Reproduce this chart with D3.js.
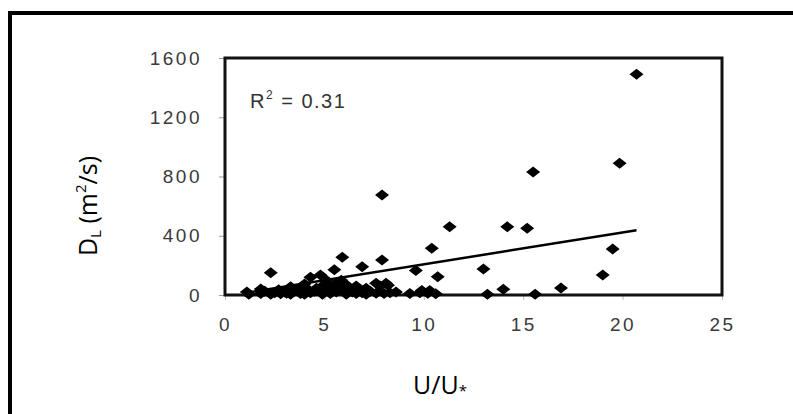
<!DOCTYPE html>
<html>
<head>
<meta charset="utf-8">
<script src="https://cdn.jsdelivr.net/npm/d3@7"></script>
<style>
  body { margin: 0; background: #fff; }
  svg { display: block; }
</style>
</head>
<body>
<div id="chart"></div>
<script>
// U/U* values
const uValues = [
  20.7, 19.85, 15.5, 7.9, 11.3, 14.2, 15.2, 10.4, 19.5, 5.9, 7.9, 6.9, 13.0, 5.5, 9.6, 2.3,
  19.0, 4.8, 10.7, 4.3, 5.1, 5.85,
  16.9, 14.0, 7.8, 8.2, 9.9, 10.3, 6.1, 6.6, 7.1, 3.3, 3.8, 5.6, 4.9, 6.3, 2.7, 1.8, 4.0,
  5.3, 7.6, 8.1, 6.8, 4.6, 3.0,
  1.1, 1.2, 1.8, 2.3, 2.8, 3.3, 3.8, 4.0, 4.3, 4.9, 5.3, 5.6, 6.1, 6.6, 7.1, 7.6, 8.0, 8.3,
  9.3, 9.8, 10.2, 13.2, 15.6, 2.0, 2.5, 3.5, 4.5, 5.0, 5.8, 6.4, 7.3, 8.6, 3.1, 4.2, 5.4, 6.9, 10.6
];
// D_L values (m2/s), same order
const dlValues = [
  1490, 890, 830, 675, 460, 460, 450, 315, 310, 255, 236, 190, 175, 170, 165, 150,
  135, 135, 124, 120, 100, 100,
  48, 38, 60, 65, 30, 30, 70, 60, 45, 55, 50, 80, 60, 40, 35, 40, 75,
  55, 80, 80, 30, 45, 20,
  20, 5, 10, 5, 8, 5, 10, 5, 15, 5, 10, 20, 5, 10, 5, 12, 10, 15,
  10, 15, 12, 5, 5, 25, 15, 30, 25, 30, 35, 20, 25, 20, 12, 35, 40, 15, 8
];

const xTicks = [0, 5, 10, 15, 20, 25];
const yTicks = [0, 400, 800, 1200, 1600];
const rSquared = "0.31";
// linear trend line (slope, intercept) over the data range
const trendSlope = 21.5;
const trendIntercept = -8;

const W = 793, H = 414;
const plot = { left: 225, right: 722, top: 58, bottom: 295 };

const svg = d3.select("#chart").append("svg")
  .attr("width", W)
  .attr("height", H);

// outer frame (top + left edges only)
svg.append("path")
  .attr("d", `M10,${H} L10,13 L${W},13`)
  .attr("fill", "none")
  .attr("stroke", "#000")
  .attr("stroke-width", 4);

const x = d3.scaleLinear().domain([0, 25]).range([plot.left, plot.right]);
const y = d3.scaleLinear().domain([0, 1600]).range([plot.bottom, plot.top]);

// y axis
const yAxis = svg.append("g")
  .attr("transform", `translate(${plot.left},0)`)
  .call(d3.axisLeft(y).tickValues(yTicks).tickFormat(d3.format("d")).tickSize(6).tickPadding(17));
yAxis.select(".domain").remove();
yAxis.selectAll("line").attr("stroke", "#999");
yAxis.selectAll("text")
  .attr("font-family", "Liberation Sans, Arial, sans-serif")
  .attr("font-size", 19)
  .attr("letter-spacing", 2.5)
  .attr("fill", "#3a3a3a");

// x axis
const xAxis = svg.append("g")
  .attr("transform", `translate(0,${plot.bottom})`)
  .call(d3.axisBottom(x).tickValues(xTicks).tickFormat(d3.format("d")).tickSize(5).tickPadding(18));
xAxis.select(".domain").remove();
xAxis.selectAll("line").attr("stroke", "#bbb");
xAxis.selectAll("text")
  .attr("font-family", "Liberation Sans, Arial, sans-serif")
  .attr("font-size", 19)
  .attr("letter-spacing", 2.5)
  .attr("fill", "#3a3a3a");

// plot frame
svg.append("rect")
  .attr("x", plot.left)
  .attr("y", plot.top)
  .attr("width", plot.right - plot.left)
  .attr("height", plot.bottom - plot.top)
  .attr("fill", "none")
  .attr("stroke", "#111")
  .attr("stroke-width", 3);

// points
const points = uValues.map((u, i) => ({ u: u, d: dlValues[i] }));
svg.append("g")
  .selectAll("path")
  .data(points)
  .enter()
  .append("path")
  .attr("transform", d => `translate(${x(d.u)},${y(d.d)})`)
  .attr("d", "M0,-5.5L7,0L0,5.5L-7,0Z")
  .attr("fill", "#000");

// trend line
const uMin = d3.min(uValues), uMax = d3.max(uValues);
svg.append("line")
  .attr("x1", x(uMin))
  .attr("y1", y(trendSlope * uMin + trendIntercept))
  .attr("x2", x(uMax))
  .attr("y2", y(trendSlope * uMax + trendIntercept))
  .attr("stroke", "#000")
  .attr("stroke-width", 2.5);

// R^2 label
const r2 = svg.append("text")
  .attr("x", 250)
  .attr("y", 108)
  .attr("font-family", "Liberation Sans, Arial, sans-serif")
  .attr("font-size", 20)
  .attr("letter-spacing", 1.5)
  .attr("fill", "#333");
r2.append("tspan").text("R");
r2.append("tspan").attr("dy", -9).attr("font-size", 12).text("2");
r2.append("tspan").attr("dy", 9).text(" = " + rSquared);

// axis titles
const yTitle = svg.append("text")
  .attr("transform", "translate(97,206) rotate(-90)")
  .attr("text-anchor", "middle")
  .attr("font-family", "Open Sans, sans-serif")
  .attr("font-size", 25)
  .attr("fill", "#000");
yTitle.append("tspan").text("D");
yTitle.append("tspan").attr("font-size", 15).attr("dy", 4).text("L");
yTitle.append("tspan").attr("dy", -4).text(" (m");
yTitle.append("tspan").attr("font-size", 15).attr("dy", -11).text("2");
yTitle.append("tspan").attr("dy", 11).text("/s)");

const xTitle = svg.append("text")
  .attr("x", 413)
  .attr("y", 394)
  .attr("font-family", "Open Sans, sans-serif")
  .attr("font-size", 25)
  .attr("fill", "#000");
xTitle.append("tspan").text("U/U");
xTitle.append("tspan").attr("font-size", 15).attr("dy", 2).text("*");
</script>
</body>
</html>
